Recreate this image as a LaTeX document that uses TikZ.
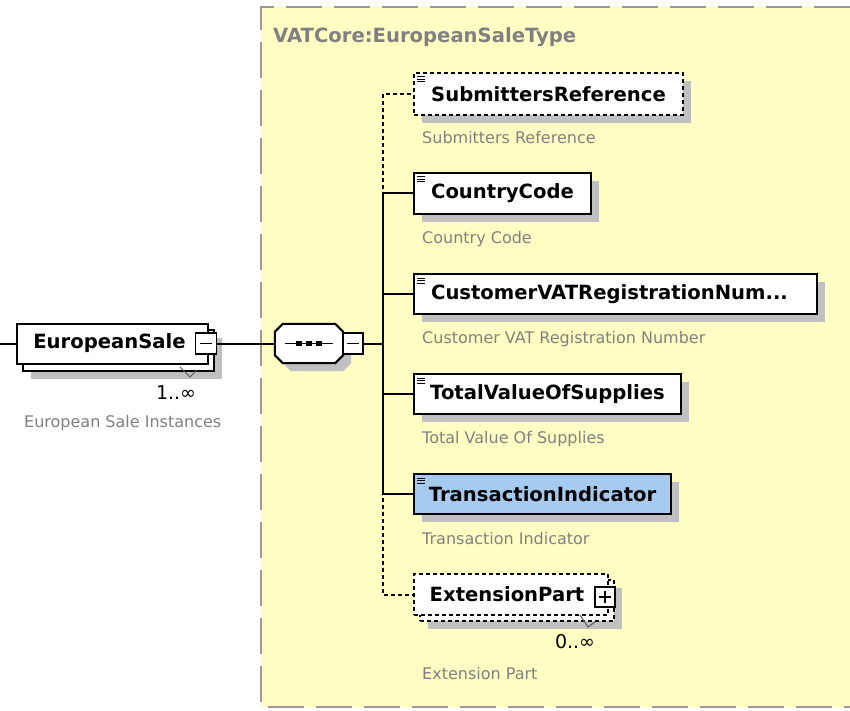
\documentclass[tikz,border=0pt]{standalone}
\usepackage{fontspec}
\setmainfont{DejaVu Sans}
\usetikzlibrary{shadows}
\definecolor{bgyellow}{RGB}{255,255,196}
\definecolor{framegray}{RGB}{153,153,153}
\definecolor{shadowgray}{RGB}{192,192,192}
\definecolor{descgray}{RGB}{128,128,128}
\definecolor{selblue}{RGB}{166,202,240}
\newcommand\elemfont{\fontsize{19.6}{23}\selectfont\bfseries}
\newcommand\descfont{\fontsize{16}{19}\selectfont}
\newcommand\multfont{\fontsize{19}{22}\selectfont}
\begin{document}
\begin{tikzpicture}[x=1pt,y=-1pt,
  shadowed/.style={drop shadow={shadow xshift=8pt,shadow yshift=-8pt,fill=shadowgray,opacity=1}},
  elembase/.style={draw=black,line width=2pt,fill=white,inner sep=0pt,minimum height=41pt,anchor=west,font=\elemfont},
  elembox/.style={elembase,shadowed},
  optbox/.style={elembox,dash pattern=on 4pt off 3pt},
  desc/.style={anchor=west,inner sep=0pt,text=descgray,font=\descfont},
  mult/.style={inner sep=0pt,font=\multfont},
  toggle/.style={draw=black,line width=1.5pt,fill=white,minimum width=20pt,minimum height=21pt,inner sep=0pt},
  conn/.style={line width=2pt},
  optconn/.style={conn,dash pattern=on 4pt off 3pt},
  frameline/.style={draw=framegray,line width=2.2pt,dash pattern=on 36pt off 12pt},
  marker/.style={line width=1pt,black!65},
  iconline/.style={line width=1pt}
]
\useasboundingbox (0,0) rectangle (850,711);
% type container
\fill[bgyellow] (261,7) rectangle (850,707);
\draw[frameline] (850,7) -- (261,7) -- (261,707) -- (850,707);
\node[anchor=west,inner sep=0pt,text=descgray,font=\elemfont] (title) at (273,37) {VATCore:EuropeanSaleType};

% EuropeanSale (repeating element)
\node[elembox,minimum width=191pt] (esback) at (22,350) {};
\node[elembase,minimum width=191pt,minimum height=40pt] (es) at (16,343.5) {\hspace*{-6pt}EuropeanSale};
\node[toggle,minimum width=21pt] (estog) at (206,343.5) {};
\draw[line width=1.4pt] ([xshift=-6pt]estog.center) -- ([xshift=6pt]estog.center);
\draw[marker] (180,367) -- (190,377) -- (197,370);
\node[mult] (esmult) at (176,393) {1..∞};
\node[desc] (esdesc) at (24,423) {European Sale Instances};

% sequence compositor
\node[inner sep=0pt,minimum width=68pt,minimum height=39pt] (seq) at (309,343.5) {};
\draw[line width=2pt,fill=white,shadowed]
  ([xshift=8pt]seq.north west) -- ([xshift=-8pt]seq.north east) -- ([yshift=-8pt]seq.north east)
  -- ([yshift=8pt]seq.south east) -- ([xshift=-8pt]seq.south east) -- ([xshift=8pt]seq.south west)
  -- ([yshift=8pt]seq.south west) -- ([yshift=-8pt]seq.north west) -- cycle;
\draw[line width=1.6pt] ([xshift=-24pt]seq.center) -- ([xshift=24pt]seq.center);
\foreach \dx in {-10,0,10} \fill ([xshift=\dx pt]seq.center) +(-2.8,-2.8) rectangle +(2.8,2.8);
\node[toggle] (seqtog) at (353,343.5) {};
\draw[line width=1.4pt] ([xshift=-6pt]seqtog.center) -- ([xshift=6pt]seqtog.center);
\coordinate (bus) at (383,343.5);
\coordinate (lstub) at (0,343.5);

% child elements
\node[optbox,minimum width=269pt,minimum height=42pt] (subref) at (413,94) {SubmittersReference};
\node[desc] (subrefd) at (422,138) {Submitters Reference};
\node[elembox,minimum width=177pt] (country) at (413,193.5) {CountryCode};
\node[desc] (countryd) at (422,239) {Country Code};
\node[elembox,minimum width=403pt,minimum height=40pt] (custvat) at (413,294) {CustomerVATRegistrationNum...\hspace*{12pt}};
\node[desc] (custvatd) at (422,339) {Customer VAT Registration Number};
\node[elembox,minimum width=267pt,minimum height=40pt] (totval) at (413,394) {TotalValueOfSupplies};
\node[desc] (totvald) at (422,439) {Total Value Of Supplies};
\node[elembox,fill=selblue,minimum width=257pt,minimum height=40pt] (trans) at (413,494) {TransactionIndicator};
\node[desc] (transd) at (422,539) {Transaction Indicator};

% ExtensionPart (optional repeating element)
\node[optbox,minimum width=194pt] (extback) at (419,600.5) {};
\node[elembase,dash pattern=on 4pt off 3pt,minimum width=194pt] (ext) at (413,594.5) {\hspace*{-8pt}ExtensionPart};
\node[toggle,minimum height=20pt] (exttog) at (605,597) {};
\draw[line width=1.4pt] ([xshift=-6pt]exttog.center) -- ([xshift=6pt]exttog.center)
                        ([yshift=-6pt]exttog.center) -- ([yshift=6pt]exttog.center);
\draw[marker] (580,615) -- (588,627) -- (595,622);
\node[mult] (extmult) at (575,642) {0..∞};
\node[desc] (extd) at (422,674) {Extension Part};

% simple-type icons
\foreach \n in {subref,country,custvat,totval,trans} {
  \draw[iconline] ([xshift=4pt,yshift=-5pt]\n.north west) -- ++(8,0);
  \draw[iconline] ([xshift=4pt,yshift=-7.5pt]\n.north west) -- ++(8,0);
  \draw[iconline] ([xshift=4pt,yshift=-10pt]\n.north west) -- ++(8,0);
}

% connectors
\draw[conn] (lstub) -- (es.west);
\draw[conn] (estog.east) -- (seq.west);
\draw[conn] (seqtog.east) -- (bus);
\draw[optconn] (bus) |- (subref.west);
\draw[optconn] (bus) |- (ext.west);
\draw[conn] (bus) |- (country.west);
\draw[conn] (bus) |- (custvat.west);
\draw[conn] (bus) |- (totval.west);
\draw[conn] (bus) |- (trans.west);
\end{tikzpicture}
\end{document}
